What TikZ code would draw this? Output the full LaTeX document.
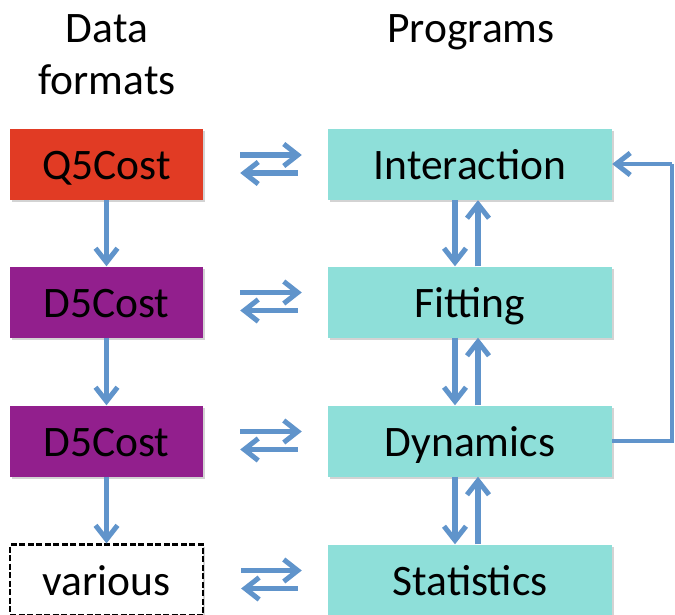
\documentclass[tikz,border=0pt]{standalone}
\usepackage{fontspec}
\setmainfont{Carlito}
\usetikzlibrary{arrows.meta,shadows}
\definecolor{qred}{HTML}{E13B24}
\definecolor{dpurple}{HTML}{921F8D}
\definecolor{pteal}{HTML}{8EDFD9}
\definecolor{arr}{HTML}{6094CB}
\tikzset{
  box/.style={inner sep=0pt, text height=30pt, text depth=0pt, minimum height=71pt,
    font=\fontsize{43.5}{52}\selectfont,
    drop shadow={opacity=0.35, shadow xshift=2pt, shadow yshift=-2pt}},
  lbox/.style={box, minimum width=193pt},
  rbox/.style={box, minimum width=284pt, fill=pteal},
  head/.style={font=\fontsize{43.5}{52}\selectfont, anchor=base, inner sep=0pt},
  conn/.style={draw=arr, line width=5.5pt, -{Straight Barb[length=14pt,width=22pt,line width=5pt]}},
  fb/.style={draw=arr, line width=4pt},
}
\begin{document}
\begin{tikzpicture}[x=1pt,y=-1pt]
\useasboundingbox (0,0) rectangle (675,614);
\clip (0,0) rectangle (675,614);
\node[head] (h1) at (107,42) {Data};
\node[head] (h2) at (107,94) {formats};
\node[head] (h3) at (471,42) {Programs};

\node[lbox, fill=qred] (q) at (106.5,164.5) {Q5Cost};
\node[lbox, fill=dpurple] (d1) at (106.5,302) {D5Cost};
\node[lbox, fill=dpurple] (d2) at (106.5,441) {D5Cost};
\node[lbox, fill=white, draw=black, line width=2.2pt, dash pattern=on 6pt off 2.5pt] (v) at (106.5,580) {various};

\node[rbox] (i) at (470,164.5) {Interaction};
\node[rbox] (f) at (470,302) {Fitting};
\node[rbox] (d) at (470,441) {Dynamics};
\node[rbox] (s) at (470,580) {Statistics};

% left vertical
\draw[conn] (q.south) -- (d1.north);
\draw[conn] (d1.south) -- (d2.north);
\draw[conn] (d2.south) -- (v.north);

% right verticals
\foreach \a/\b in {i/f, f/d, d/s}{
  \draw[conn] ([xshift=-15pt]\a.south) -- ([xshift=-15pt]\b.north);
  \draw[conn] ([xshift=8pt]\b.north) -- ([xshift=8pt]\a.south);
}

% horizontal pairs
\foreach \a/\b in {q/i, d1/f, d2/d, v/s}{
  \draw[conn] ([shift={(37pt,9.5pt)}]\a.east) -- ([shift={(-26pt,9.5pt)}]\b.west);
  \draw[conn] ([shift={(-30pt,-8.5pt)}]\b.west) -- ([shift={(37pt,-8.5pt)}]\a.east);
}

% feedback
\coordinate (c1) at (672,441);
\coordinate (c2) at (672,164);
\draw[fb] (d.east) -- (c1) -- (c2);
\draw[conn, line width=4pt] (c2) -- (c2 -| i.east);
\end{tikzpicture}
\end{document}
